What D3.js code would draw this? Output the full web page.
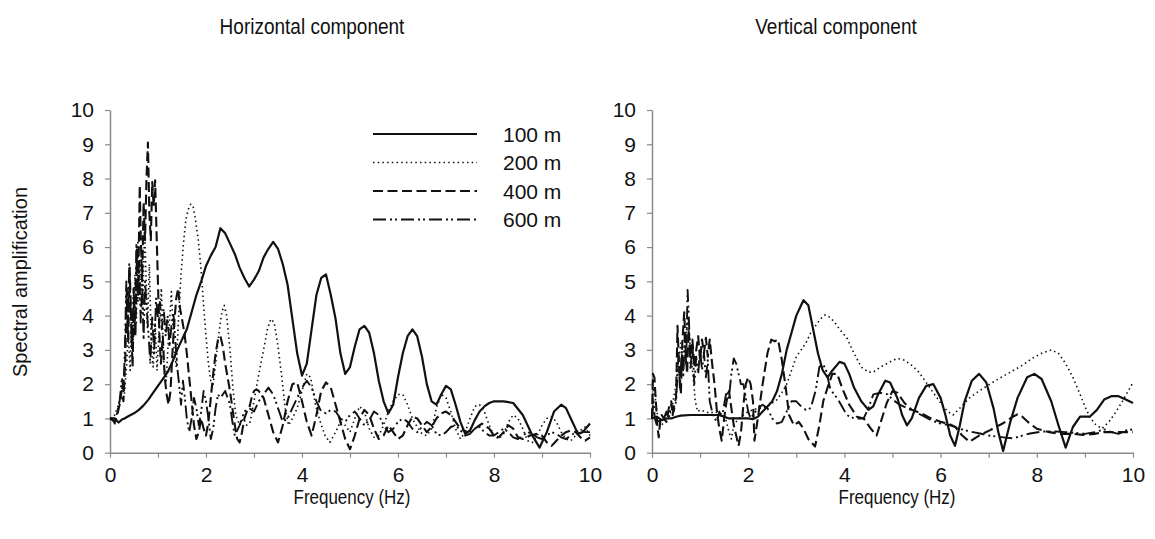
<!DOCTYPE html>
<html>
<head>
<meta charset="utf-8">
<script src="https://cdn.jsdelivr.net/npm/d3@7"></script>
<style>
  html, body { margin: 0; padding: 0; background: #fff; }
  svg { display: block; font-family: "Liberation Sans", Arial, sans-serif; }
</style>
</head>
<body>
<svg id="chart" width="1155" height="539"></svg>
<script>
// Spectral amplification vs. frequency, [frequency (Hz), amplification]
const depthLabels = ["100 m", "200 m", "400 m", "600 m"];
const panelTitles = ["Horizontal component", "Vertical component"];
const xTicks = [0, 1, 2, 3, 4, 5, 6, 7, 8, 9, 10];
const yTicks = [0, 1, 2, 3, 4, 5, 6, 7, 8, 9, 10];

// Horizontal component
const h100 = [[0,1.0],[0.1,1.0],[0.18,0.88],[0.25,0.97],[0.3,1.0],[0.4,1.08],[0.5,1.15],[0.6,1.25],[0.7,1.38],[0.8,1.55],[0.9,1.75],[1.0,1.95],[1.1,2.15],[1.2,2.35],[1.3,2.65],[1.4,3.0],[1.5,3.3],[1.6,3.6],[1.7,4.1],[1.8,4.6],[1.9,5.0],[2.0,5.45],[2.1,5.75],[2.2,6.0],[2.3,6.55],[2.4,6.4],[2.5,6.1],[2.6,5.8],[2.7,5.4],[2.8,5.1],[2.9,4.85],[3.0,5.05],[3.1,5.3],[3.2,5.7],[3.3,5.95],[3.4,6.15],[3.5,5.95],[3.6,5.5],[3.7,4.9],[3.8,3.9],[3.9,2.9],[4.0,2.25],[4.1,2.6],[4.2,3.6],[4.3,4.6],[4.4,5.1],[4.5,5.2],[4.6,4.6],[4.7,3.9],[4.8,2.9],[4.9,2.3],[5.0,2.5],[5.1,3.1],[5.2,3.6],[5.3,3.7],[5.4,3.5],[5.5,2.9],[5.6,2.1],[5.7,1.5],[5.8,1.15],[5.9,1.4],[6.0,2.2],[6.1,2.9],[6.2,3.4],[6.3,3.6],[6.4,3.4],[6.5,2.8],[6.6,2.0],[6.7,1.5],[6.8,1.4],[6.9,1.7],[7.0,1.95],[7.1,1.85],[7.2,1.4],[7.3,0.9],[7.4,0.55],[7.5,0.65],[7.6,0.95],[7.7,1.2],[7.8,1.35],[7.9,1.45],[8.0,1.5],[8.2,1.5],[8.4,1.45],[8.6,1.1],[8.8,0.5],[8.95,0.15],[9.1,0.6],[9.25,1.2],[9.4,1.4],[9.5,1.3],[9.6,1.0],[9.75,0.55],[9.85,0.6],[10,0.85]];
const h200 = [[0,1.0],[0.05,1.05],[0.1,1.1],[0.15,1.3],[0.2,1.5],[0.25,1.9],[0.3,1.7],[0.35,2.6],[0.38,3.5],[0.42,2.4],[0.45,4.2],[0.48,3.0],[0.52,5.2],[0.55,3.8],[0.58,6.2],[0.62,4.5],[0.65,5.8],[0.68,4.0],[0.72,6.6],[0.75,5.2],[0.78,3.6],[0.82,5.5],[0.86,3.2],[0.9,2.5],[0.94,3.8],[0.98,2.4],[1.02,3.5],[1.07,4.8],[1.12,2.6],[1.17,2.1],[1.22,3.4],[1.28,4.7],[1.33,3.1],[1.38,2.5],[1.43,4.0],[1.48,5.2],[1.53,6.1],[1.58,6.8],[1.63,7.1],[1.68,7.25],[1.73,7.2],[1.78,6.8],[1.84,6.2],[1.9,5.3],[1.95,4.3],[2.0,3.4],[2.05,2.6],[2.1,2.1],[2.15,2.0],[2.2,2.6],[2.27,3.5],[2.33,4.1],[2.38,4.3],[2.43,4.0],[2.5,3.0],[2.56,1.9],[2.62,1.1],[2.7,0.8],[2.78,1.0],[2.85,0.8],[2.92,0.9],[3.0,1.5],[3.1,2.3],[3.2,3.0],[3.28,3.6],[3.35,3.9],[3.42,3.8],[3.5,3.1],[3.58,2.2],[3.65,1.3],[3.72,0.8],[3.8,1.0],[3.9,1.3],[4.0,1.8],[4.1,2.3],[4.18,2.2],[4.28,1.4],[4.38,0.9],[4.48,0.5],[4.58,0.3],[4.7,0.6],[4.8,0.9],[4.9,0.8],[5.0,0.6],[5.1,1.0],[5.2,1.35],[5.3,1.2],[5.4,0.7],[5.5,0.45],[5.6,0.5],[5.7,0.8],[5.8,1.2],[5.9,1.5],[6.0,1.7],[6.1,1.7],[6.2,1.4],[6.3,1.0],[6.4,0.75],[6.5,0.55],[6.6,0.5],[6.7,0.7],[6.8,1.3],[6.9,1.7],[7.0,1.6],[7.1,1.2],[7.2,0.7],[7.3,0.4],[7.4,0.6],[7.5,1.0],[7.6,1.35],[7.7,1.4],[7.8,1.2],[7.9,0.8],[8.0,0.5],[8.1,0.4],[8.2,0.55],[8.3,0.9],[8.4,1.1],[8.5,1.0],[8.6,0.7],[8.7,0.35],[8.8,0.3],[8.9,0.5],[9.0,0.8],[9.1,1.0],[9.2,1.05],[9.3,0.9],[9.4,0.6],[9.5,0.4],[9.6,0.35],[9.7,0.5],[9.8,0.65],[9.9,0.75],[10,0.5]];
const h400 = [[0,1.0],[0.05,0.95],[0.1,0.9],[0.15,1.1],[0.2,1.4],[0.24,1.8],[0.28,1.5],[0.32,2.8],[0.35,4.8],[0.38,3.2],[0.41,5.4],[0.44,3.9],[0.47,2.5],[0.5,4.6],[0.53,3.4],[0.56,6.0],[0.59,5.0],[0.62,7.8],[0.64,6.3],[0.67,5.0],[0.7,7.3],[0.73,6.2],[0.76,8.0],[0.79,9.05],[0.82,7.0],[0.85,6.2],[0.88,7.9],[0.91,7.2],[0.94,7.95],[0.97,6.4],[1.0,4.9],[1.03,3.4],[1.06,2.6],[1.1,3.4],[1.14,2.2],[1.18,1.7],[1.22,1.4],[1.26,1.8],[1.3,2.9],[1.34,3.8],[1.38,4.5],[1.42,4.8],[1.46,4.2],[1.5,3.9],[1.55,3.5],[1.6,2.9],[1.65,2.2],[1.7,1.5],[1.75,0.8],[1.8,0.4],[1.85,0.6],[1.9,1.0],[1.95,0.7],[2.0,0.5],[2.05,0.9],[2.1,1.6],[2.15,2.3],[2.2,2.9],[2.25,3.3],[2.3,3.4],[2.35,3.1],[2.4,2.6],[2.45,2.2],[2.5,1.8],[2.55,1.3],[2.6,0.8],[2.65,0.4],[2.7,0.3],[2.75,0.6],[2.8,1.0],[2.85,1.2],[2.9,1.3],[2.95,1.6],[3.0,1.8],[3.05,1.85],[3.1,1.8],[3.2,1.6],[3.3,1.1],[3.4,0.6],[3.5,0.3],[3.6,0.8],[3.7,1.5],[3.8,2.0],[3.9,2.05],[4.0,1.5],[4.1,0.9],[4.2,0.5],[4.3,1.1],[4.4,1.8],[4.5,2.05],[4.6,1.9],[4.7,1.4],[4.8,0.9],[4.9,0.4],[5.0,0.1],[5.1,0.5],[5.2,1.0],[5.3,1.25],[5.4,1.1],[5.5,0.7],[5.6,0.4],[5.7,0.5],[5.8,0.8],[5.9,0.6],[6.0,0.4],[6.1,0.5],[6.2,0.8],[6.3,1.05],[6.4,1.0],[6.5,0.8],[6.6,0.6],[6.7,0.75],[6.8,1.0],[6.9,1.15],[7.0,1.2],[7.1,1.1],[7.2,0.9],[7.3,0.7],[7.45,0.6],[7.6,0.7],[7.75,0.85],[7.9,0.7],[8.0,0.5],[8.1,0.45],[8.2,0.6],[8.3,0.8],[8.4,0.7],[8.5,0.45],[8.6,0.4],[8.75,0.5],[8.9,0.55],[9.0,0.5],[9.1,0.3],[9.2,0.2],[9.3,0.35],[9.4,0.5],[9.5,0.6],[9.6,0.65],[9.7,0.6],[9.8,0.45],[9.9,0.35],[10,0.45]];
const h600 = [[0,1.0],[0.05,1.0],[0.1,0.85],[0.15,1.2],[0.2,1.5],[0.25,2.2],[0.28,1.8],[0.31,3.0],[0.34,5.0],[0.37,3.5],[0.4,5.5],[0.43,4.2],[0.46,2.9],[0.49,4.8],[0.52,3.6],[0.55,6.1],[0.58,4.4],[0.61,5.6],[0.64,3.8],[0.67,4.9],[0.7,3.3],[0.73,5.0],[0.76,4.3],[0.8,3.5],[0.84,2.6],[0.88,4.0],[0.92,2.9],[0.96,4.5],[1.0,3.9],[1.04,4.4],[1.08,3.6],[1.12,4.2],[1.16,3.4],[1.2,4.0],[1.24,3.1],[1.28,3.7],[1.32,4.1],[1.36,3.3],[1.4,2.5],[1.44,2.0],[1.48,1.4],[1.52,2.1],[1.56,1.6],[1.6,1.0],[1.65,0.6],[1.7,1.0],[1.75,1.6],[1.8,1.3],[1.85,0.8],[1.9,1.2],[1.95,1.8],[2.0,1.5],[2.05,1.0],[2.1,0.4],[2.15,0.7],[2.2,1.3],[2.25,1.7],[2.3,1.6],[2.4,1.8],[2.5,1.4],[2.55,0.9],[2.6,0.5],[2.7,0.8],[2.8,1.2],[2.9,1.3],[3.0,1.2],[3.1,1.5],[3.2,1.7],[3.3,1.9],[3.4,1.7],[3.5,1.3],[3.6,0.9],[3.7,1.0],[3.8,1.3],[3.9,1.6],[4.0,1.9],[4.1,2.1],[4.2,1.9],[4.3,1.5],[4.4,1.2],[4.5,1.15],[4.6,1.25],[4.7,1.2],[4.8,1.0],[4.9,0.9],[5.0,1.1],[5.1,1.2],[5.2,1.0],[5.3,0.8],[5.4,0.95],[5.5,1.2],[5.6,1.1],[5.7,0.8],[5.8,0.6],[5.9,0.7],[6.0,0.9],[6.1,1.0],[6.2,0.9],[6.3,0.7],[6.4,0.6],[6.5,0.75],[6.6,0.9],[6.7,0.8],[6.8,0.55],[6.9,0.5],[7.0,0.6],[7.1,0.75],[7.2,0.8],[7.3,0.65],[7.4,0.5],[7.5,0.55],[7.6,0.7],[7.7,0.75],[7.8,0.6],[7.9,0.5],[8.0,0.5],[8.1,0.6],[8.2,0.7],[8.3,0.6],[8.4,0.45],[8.5,0.4],[8.6,0.5],[8.7,0.6],[8.8,0.55],[8.9,0.45],[9.0,0.4],[9.1,0.5],[9.2,0.6],[9.3,0.55],[9.4,0.45],[9.5,0.4],[9.6,0.5],[9.7,0.6],[9.8,0.65],[9.9,0.6],[10,0.6]];

// Vertical component
const v100 = [[0,1.0],[0.1,1.05],[0.2,0.95],[0.3,1.0],[0.4,1.0],[0.5,1.05],[0.6,1.08],[0.8,1.1],[1.0,1.1],[1.2,1.1],[1.4,1.1],[1.5,1.05],[1.6,1.0],[1.8,1.0],[2.0,1.0],[2.1,0.98],[2.2,1.05],[2.3,1.2],[2.4,1.35],[2.5,1.5],[2.6,1.8],[2.7,2.3],[2.8,3.0],[2.9,3.5],[3.0,4.0],[3.1,4.3],[3.15,4.45],[3.25,4.3],[3.35,3.6],[3.45,2.9],[3.55,2.4],[3.65,2.2],[3.75,2.4],[3.9,2.65],[4.0,2.6],[4.1,2.3],[4.2,1.9],[4.35,1.5],[4.5,1.25],[4.6,1.35],[4.7,1.7],[4.85,2.1],[4.95,2.05],[5.1,1.6],[5.2,1.1],[5.3,0.8],[5.4,1.0],[5.55,1.6],[5.7,1.95],[5.85,2.0],[6.0,1.6],[6.1,1.1],[6.2,0.5],[6.3,0.2],[6.4,0.8],[6.5,1.5],[6.65,2.1],[6.8,2.3],[6.95,2.05],[7.1,1.3],[7.2,0.6],[7.3,0.05],[7.45,0.9],[7.6,1.6],[7.8,2.2],[7.95,2.3],[8.1,2.15],[8.3,1.5],[8.45,0.8],[8.6,0.15],[8.75,0.75],[8.9,1.05],[9.1,1.05],[9.25,1.25],[9.4,1.55],[9.55,1.65],[9.7,1.65],[9.85,1.55],[10,1.45]];
const v200 = [[0,1.0],[0.03,1.9],[0.06,1.7],[0.1,1.2],[0.15,0.9],[0.2,0.8],[0.3,1.0],[0.4,1.2],[0.45,1.6],[0.5,2.0],[0.55,2.7],[0.6,3.2],[0.65,2.4],[0.7,3.4],[0.75,3.9],[0.8,3.0],[0.85,2.3],[0.9,1.5],[0.95,1.2],[1.0,1.25],[1.1,1.2],[1.2,1.15],[1.3,1.2],[1.4,1.15],[1.5,1.1],[1.55,0.9],[1.6,0.6],[1.65,0.4],[1.7,0.8],[1.8,1.0],[1.9,1.1],[2.0,1.2],[2.1,1.25],[2.2,1.3],[2.3,1.3],[2.4,1.35],[2.5,1.45],[2.6,1.55],[2.7,1.75],[2.8,2.0],[2.9,2.4],[3.0,2.8],[3.1,3.0],[3.2,3.2],[3.3,3.5],[3.4,3.7],[3.5,3.9],[3.6,4.02],[3.7,3.95],[3.8,3.8],[3.9,3.6],[4.05,3.35],[4.2,2.9],[4.35,2.5],[4.5,2.35],[4.6,2.35],[4.75,2.5],[4.95,2.65],[5.1,2.75],[5.25,2.7],[5.4,2.55],[5.55,2.35],[5.7,2.05],[5.85,1.75],[6.0,1.45],[6.15,1.2],[6.26,1.1],[6.4,1.3],[6.6,1.6],[6.8,1.8],[7.0,1.98],[7.2,2.15],[7.45,2.35],[7.7,2.55],[7.9,2.75],[8.1,2.9],[8.3,3.0],[8.45,2.9],[8.6,2.6],[8.75,2.2],[8.9,1.7],[9.0,1.35],[9.1,1.05],[9.2,0.85],[9.35,0.7],[9.5,0.9],[9.65,1.2],[9.8,1.55],[9.9,1.8],[10,2.05]];
const v400 = [[0,1.0],[0.02,2.3],[0.05,2.2],[0.08,1.5],[0.11,0.8],[0.14,0.45],[0.17,0.9],[0.2,1.1],[0.25,1.0],[0.3,0.9],[0.35,1.3],[0.4,1.5],[0.43,1.1],[0.46,1.4],[0.5,1.6],[0.53,3.7],[0.56,2.6],[0.6,1.7],[0.63,3.2],[0.67,4.1],[0.7,3.0],[0.73,2.3],[0.76,3.6],[0.8,2.8],[0.84,3.3],[0.88,2.5],[0.92,3.0],[0.96,3.4],[1.0,2.7],[1.04,3.3],[1.08,2.9],[1.12,3.35],[1.16,2.8],[1.2,3.3],[1.25,2.6],[1.3,2.0],[1.35,1.2],[1.4,0.7],[1.45,0.35],[1.5,1.0],[1.55,1.5],[1.6,1.8],[1.65,1.3],[1.7,0.8],[1.75,0.5],[1.8,0.2],[1.85,0.6],[1.9,1.4],[1.95,2.0],[2.0,2.2],[2.05,2.0],[2.1,1.5],[2.13,0.35],[2.2,1.0],[2.3,2.0],[2.4,2.9],[2.48,3.3],[2.55,3.25],[2.62,3.3],[2.7,2.7],[2.78,1.9],[2.85,1.1],[2.95,0.8],[3.05,0.9],[3.15,0.7],[3.25,0.4],[3.39,0.18],[3.48,0.8],[3.56,1.5],[3.65,1.9],[3.75,2.3],[3.85,2.3],[3.95,1.9],[4.1,1.4],[4.26,1.05],[4.4,1.0],[4.55,0.7],[4.67,0.5],[4.78,1.0],[4.88,1.45],[5.0,1.8],[5.1,1.75],[5.25,1.45],[5.4,1.25],[5.6,1.15],[5.8,1.0],[6.0,0.9],[6.15,0.85],[6.3,0.76],[6.45,0.5],[6.6,0.32],[6.8,0.5],[7.03,0.66],[7.3,0.86],[7.5,1.05],[7.6,1.12],[7.7,1.05],[7.85,0.85],[8.0,0.7],[8.26,0.6],[8.5,0.55],[8.75,0.55],[8.96,0.52],[9.2,0.55],[9.4,0.6],[9.6,0.6],[9.8,0.6],[10,0.6]];
const v600 = [[0,1.0],[0.03,1.5],[0.06,1.0],[0.1,0.8],[0.15,1.0],[0.2,0.9],[0.25,1.0],[0.3,1.2],[0.35,1.0],[0.4,1.4],[0.45,1.2],[0.5,1.5],[0.55,2.8],[0.58,1.9],[0.62,3.0],[0.65,2.2],[0.68,3.5],[0.71,2.6],[0.74,4.75],[0.77,3.8],[0.8,2.4],[0.84,3.2],[0.88,2.0],[0.92,2.8],[0.96,2.3],[1.0,3.0],[1.04,2.4],[1.08,2.9],[1.12,2.2],[1.16,2.7],[1.2,1.5],[1.25,1.2],[1.3,1.0],[1.35,0.9],[1.4,1.2],[1.45,1.0],[1.5,1.4],[1.55,1.8],[1.6,1.6],[1.65,2.3],[1.7,2.75],[1.75,2.6],[1.8,2.3],[1.85,2.0],[1.9,2.0],[1.95,1.6],[2.0,1.2],[2.05,1.0],[2.1,1.1],[2.2,1.3],[2.3,1.4],[2.4,1.3],[2.5,1.0],[2.6,0.85],[2.7,0.9],[2.8,1.2],[2.9,1.5],[3.0,1.5],[3.1,1.35],[3.2,1.25],[3.3,1.3],[3.4,1.8],[3.48,2.5],[3.55,2.6],[3.62,2.4],[3.7,1.9],[3.78,1.7],[3.85,1.6],[3.95,1.35],[4.05,1.1],[4.2,1.0],[4.4,1.0],[4.5,1.3],[4.6,1.7],[4.75,1.75],[4.9,1.7],[5.0,1.55],[5.15,1.4],[5.3,1.3],[5.45,1.2],[5.6,1.1],[5.8,0.95],[6.0,0.85],[6.2,0.8],[6.4,0.7],[6.6,0.62],[6.82,0.56],[7.0,0.5],[7.17,0.47],[7.35,0.44],[7.51,0.42],[7.7,0.5],[7.86,0.56],[8.13,0.62],[8.4,0.62],[8.6,0.6],[8.8,0.58],[9.0,0.55],[9.2,0.6],[9.4,0.68],[9.55,0.6],[9.7,0.55],[9.85,0.65],[10,0.68]];

// Line style for each depth (solid, dotted, dashed, dash-dot-dot)
const styles = [
  { width: 2.2, dash: null },
  { width: 1.6, dash: "1.5,3.2" },
  { width: 2.1, dash: "10,4.5" },
  { width: 1.9, dash: "13,4,2,3,2,4" }
];

const svg = d3.select("#chart");
svg.append("rect").attr("width", 1155).attr("height", 539).attr("fill", "#fff");

const panels = [
  { title: panelTitles[0], series: [h100, h200, h400, h600], x0: 110, x1: 590, titleX: 312, xTitleX: 352, legend: true },
  { title: panelTitles[1], series: [v100, v200, v400, v600], x0: 652, x1: 1133, titleX: 836, xTitleX: 897, legend: false }
];
const yTop = 110, yBottom = 452.7;
const axisColor = "#8a8a8a";

// text drawn slightly taller than wide, as in the printed figure
function tallText(parent, x, y, size, str) {
  return parent.append("text")
    .attr("transform", `translate(${x},${y}) scale(1,1.15)`)
    .attr("text-anchor", "middle")
    .attr("font-size", size).attr("fill", "#111")
    .text(str);
}

panels.forEach(p => {
  const x = d3.scaleLinear().domain([0, 10]).range([p.x0, p.x1]);
  const y = d3.scaleLinear().domain([0, 10]).range([yBottom, yTop]);
  const g = svg.append("g");

  // x axis: ticks every 1 Hz, labels every 2 Hz
  const xAxis = g.append("g")
    .attr("transform", `translate(0,${yBottom})`)
    .call(d3.axisBottom(x).tickValues(xTicks).tickSize(5).tickSizeOuter(0).tickPadding(9)
      .tickFormat(d => d % 2 === 0 ? d : ""));
  // y axis
  const yAxis = g.append("g")
    .attr("transform", `translate(${p.x0},0)`)
    .call(d3.axisLeft(y).tickValues(yTicks).tickSize(5).tickSizeOuter(0).tickPadding(11));

  [xAxis, yAxis].forEach(a => {
    a.select(".domain").attr("stroke", axisColor).attr("stroke-width", 1.5);
    a.selectAll(".tick line").attr("stroke", axisColor).attr("stroke-width", 1.2);
    a.selectAll(".tick text").attr("fill", "#111").attr("font-size", 21)
      .attr("font-family", "Liberation Sans, Arial, sans-serif");
  });

  const line = d3.line().x(d => x(d[0])).y(d => y(d[1]));
  // draw deepest first so the 100 m curve sits on top
  for (let i = p.series.length - 1; i >= 0; i--) {
    const s = styles[i];
    g.append("path")
      .datum(p.series[i])
      .attr("d", line)
      .attr("fill", "none")
      .attr("stroke", "#111")
      .attr("stroke-width", s.width)
      .attr("stroke-linejoin", "round")
      .attr("stroke-dasharray", s.dash);
  }

  tallText(g, p.titleX, 34, 19, p.title);
  tallText(g, p.xTitleX, 504, 17, "Frequency (Hz)");

  if (p.legend) {
    const ly = d3.scalePoint().domain(depthLabels).range([134, 219.5]);
    depthLabels.forEach((lab, i) => {
      const s = styles[i];
      g.append("line")
        .attr("x1", 373).attr("x2", 477)
        .attr("y1", ly(lab)).attr("y2", ly(lab))
        .attr("stroke", "#111").attr("stroke-width", s.width)
        .attr("stroke-dasharray", s.dash);
      g.append("text")
        .attr("x", 503).attr("y", ly(lab))
        .attr("dy", "0.36em")
        .attr("font-size", 21).attr("fill", "#111")
        .text(lab);
    });
  }
});

svg.append("text")
  .attr("transform", "translate(27,282) rotate(-90)")
  .attr("text-anchor", "middle")
  .attr("font-size", 20).attr("fill", "#111")
  .text("Spectral amplification");
</script>
</body>
</html>
